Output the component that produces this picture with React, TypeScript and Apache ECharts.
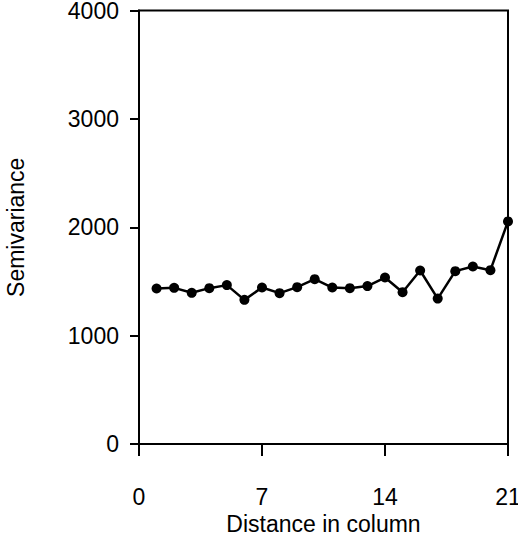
import React, { useEffect, useRef } from "react";
import * as echarts from "echarts";

const distances = [1, 2, 3, 4, 5, 6, 7, 8, 9, 10, 11, 12, 13, 14, 15, 16, 17, 18, 19, 20, 21];
const semivariance = [1435, 1441, 1395, 1438, 1466, 1330, 1444, 1392, 1447, 1521, 1444, 1438, 1457, 1536, 1401, 1601, 1342, 1595, 1638, 1604, 2054];
const xTicks = [0, 7, 14, 21];
const yTicks = [0, 1000, 2000, 3000, 4000];

const FONT = "'Liberation Sans', Arial, Helvetica, sans-serif";
const FS = 23;

export default function App() {
  const ref = useRef<HTMLDivElement>(null);
  useEffect(() => {
    if (!ref.current) return;
    const chart = echarts.init(ref.current, null, { renderer: "svg" });
    const axisStyle = { color: "#000", width: 2 };
    chart.setOption({
      animation: false,
      backgroundColor: "#fff",
      textStyle: { fontFamily: FONT, color: "#000" },
      grid: {
        left: 139,
        right: 10,
        top: 10.5,
        bottom: 94,
        outerBoundsMode: "none",
        containLabel: false,
        show: true,
        borderColor: "#000",
        borderWidth: 2,
        backgroundColor: "transparent",
      },
      xAxis: {
        type: "value",
        min: xTicks[0],
        max: xTicks[xTicks.length - 1],
        interval: 7,
        name: "Distance in column",
        nameLocation: "middle",
        nameGap: 67,
        nameTextStyle: { fontSize: FS, color: "#000", fontFamily: FONT },
        axisLine: { show: true, onZero: false, lineStyle: axisStyle },
        axisTick: { show: true, inside: false, length: 12, lineStyle: axisStyle },
        axisLabel: { show: true, margin: 41, fontSize: FS, color: "#000", fontFamily: FONT, formatter: (v: number) => String(v) },
        splitLine: { show: false },
      },
      yAxis: {
        type: "value",
        min: yTicks[0],
        max: yTicks[yTicks.length - 1],
        interval: 1000,
        name: "Semivariance",
        nameLocation: "middle",
        nameGap: 112,
        nameTextStyle: { fontSize: FS, color: "#000", fontFamily: FONT },
        axisLine: { show: true, onZero: false, lineStyle: axisStyle },
        axisTick: { show: true, inside: false, length: 9, lineStyle: axisStyle },
        axisLabel: { show: true, margin: 20, fontSize: FS, color: "#000", fontFamily: FONT, formatter: (v: number) => String(v) },
        splitLine: { show: false },
      },
      series: [
        {
          type: "line",
          data: distances.map((d, i) => [d, semivariance[i]]),
          symbol: "circle",
          symbolSize: 10,
          clip: false,
          lineStyle: { color: "#000", width: 2.5 },
          itemStyle: { color: "#000" },
        },
      ],
    });
    return () => chart.dispose();
  }, []);
  return <div ref={ref} style={{ width: 518, height: 538, position: "absolute", left: 0, top: 0 }} />;
}
